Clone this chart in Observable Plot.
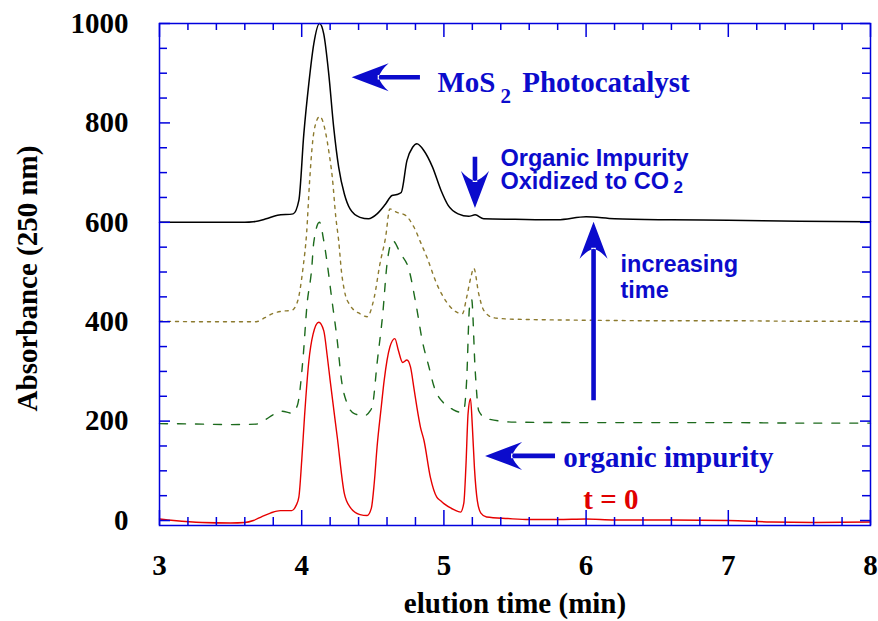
<!DOCTYPE html>
<html>
<head>
<meta charset="utf-8">
<script src="https://cdn.jsdelivr.net/npm/d3@7"></script>
<script src="https://cdn.jsdelivr.net/npm/@observablehq/plot@0.6"></script>
<style>
  html, body { margin: 0; padding: 0; background: #fff; }
</style>
</head>
<body>
<div id="chart"></div>
<script>
// Elution time (min) and absorbance at 250 nm for each chromatogram.
// t = 0 sample
const timeT0 = [3.0, 3.1, 3.3, 3.5, 3.6, 3.66, 3.72, 3.78, 3.85, 3.93, 3.96, 3.98, 4.0, 4.02, 4.05, 4.08, 4.12, 4.155, 4.18, 4.2, 4.25, 4.3, 4.34, 4.41, 4.46, 4.49, 4.51, 4.53, 4.56, 4.58, 4.62, 4.655, 4.68, 4.71, 4.74, 4.765, 4.79, 4.81, 4.835, 4.86, 4.905, 4.95, 4.976, 5.0, 5.07, 5.117, 5.14, 5.155, 5.17, 5.187, 5.2, 5.215, 5.235, 5.26, 5.3, 5.45, 5.6, 5.8, 6.0, 6.2, 6.6, 7.0, 7.3, 7.6, 8.0];
const absT0 = [3, 0, -4, -5, -4, 0, 8, 15, 20, 20, 30, 47, 120, 210, 320, 375, 399, 382, 330, 282, 168, 54, 27, 12, 10, 25, 75, 148, 230, 282, 349, 366, 342, 318, 323, 309, 265, 228, 188, 161, 87, 47, 40, 34, 22, 17, 35, 110, 215, 245, 190, 105, 40, 15, 7, 4, 2, 2, 3, 1, 1, 0, -3, -4, -3];

// intermediate sample (dashed)
const timeMid = [3.0, 3.3, 3.5, 3.68, 3.74, 3.8, 3.86, 3.93, 3.97, 4.01, 4.037, 4.07, 4.085, 4.125, 4.155, 4.18, 4.21, 4.25, 4.28, 4.32, 4.37, 4.44, 4.48, 4.5, 4.53, 4.57, 4.6, 4.64, 4.695, 4.753, 4.805, 4.85, 4.894, 4.93, 5.0, 5.06, 5.117, 5.14, 5.16, 5.18, 5.195, 5.22, 5.245, 5.3, 5.5, 6.0, 6.5, 7.0, 7.5, 8.0];
const absMid = [195, 194, 193, 194, 202, 213, 220, 216, 232, 329, 433, 506, 560, 600, 563, 516, 449, 362, 282, 235, 215, 211, 220, 235, 316, 416, 516, 563, 537, 506, 433, 359, 310, 270, 236, 224, 218, 222, 282, 429, 445, 302, 221, 205, 198, 197, 197, 197, 196, 196];

// later sample (dotted)
const timeLate = [3.0, 3.3, 3.5, 3.68, 3.74, 3.8, 3.86, 3.93, 3.97, 4.01, 4.035, 4.055, 4.078, 4.097, 4.127, 4.17, 4.19, 4.215, 4.24, 4.26, 4.28, 4.3, 4.34, 4.41, 4.46, 4.51, 4.55, 4.59, 4.62, 4.67, 4.73, 4.79, 4.84, 4.88, 4.95, 5.02, 5.07, 5.13, 5.16, 5.19, 5.21, 5.245, 5.28, 5.35, 5.5, 6.0, 6.5, 7.0, 7.5, 8.0];
const absLate = [401, 400, 400, 400, 408, 417, 421, 423, 440, 510, 580, 680, 765, 797, 813, 778, 744, 691, 610, 563, 500, 463, 433, 416, 410, 449, 516, 570, 627, 620, 614, 590, 557, 530, 476, 439, 423, 416, 449, 490, 508, 456, 423, 408, 405, 403, 402, 402, 401, 401];

// final sample (solid black)
const timeFinal = [3.0, 3.3, 3.6, 3.66, 3.75, 3.83, 3.94, 3.98, 4.015, 4.05, 4.085, 4.125, 4.155, 4.19, 4.225, 4.26, 4.3, 4.34, 4.41, 4.47, 4.53, 4.59, 4.635, 4.67, 4.7, 4.74, 4.78, 4.81, 4.86, 4.92, 4.98, 5.03, 5.1, 5.175, 5.22, 5.28, 5.5, 5.8, 6.0, 6.2, 6.6, 7.0, 7.5, 8.0];
const absFinal = [600, 600, 600, 601, 607, 614, 617, 644, 778, 879, 959, 1000, 979, 899, 791, 711, 657, 627, 610, 607, 617, 637, 654, 656, 660, 724, 751, 758, 744, 711, 664, 634, 617, 612, 615, 607, 606, 605, 611, 607, 605, 604, 602, 601];

// axis tick labels
const xTicks = [3, 4, 5, 6, 7, 8];
const yTicks = [0, 200, 400, 600, 800, 1000];

// annotation labels, anchored at (elution time, absorbance) baselines
const serifLabels = [
  {text: "MoS", t: 4.955, a: 862},
  {text: "Photocatalyst", t: 5.551, a: 862},
  {text: "organic impurity", t: 5.839, a: 107}
];
const serifSubscripts = [{text: "2", t: 5.398, a: 841}];
const sansLabels = [
  {text: "Organic Impurity", t: 5.398, a: 714},
  {text: "Oxidized to CO", t: 5.398, a: 667},
  {text: "increasing", t: 6.242, a: 500},
  {text: "time", t: 6.242, a: 447}
];
const sansSubscripts = [{text: "2", t: 6.615, a: 658}];
const startLabel = [{text: "t = 0", t: 5.98, a: 23}];

// arrows: tail (x1, y1) to tip (x2, y2)
const arrows = [
  {x1: 4.835, y1: 891, x2: 4.355, y2: 891},
  {x1: 5.222, y1: 731, x2: 5.222, y2: 628},
  {x1: 6.056, y1: 241, x2: 6.056, y2: 600},
  {x1: 5.785, y1: 129, x2: 5.293, y2: 129}
];

const rows = (ts, vs) => ts.map((t, i) => ({t, a: vs[i]}));

const W = 878, H = 621;
const M = {left: 159, right: 8, top: 23, bottom: 96};
const innerW = W - M.left - M.right;
const innerH = H - M.top - M.bottom;

const axisBlue = "#0000dd";
const noteBlue = "#0b0bcc";
const serif = "Liberation Serif, Times New Roman, serif";
const sans = "Liberation Sans, Arial, sans-serif";

const xMinor = d3.range(3, 8.0001, 0.2).filter(d => Math.abs(d - Math.round(d)) > 1e-6);
const yMinor = d3.range(0, 1000.1, 50).filter(d => d % 200 !== 0);

// inward frame ticks: each tickY/tickX is trimmed to a short stub by its insets
const tickStyle = {stroke: axisBlue, strokeWidth: 1.5};
const leftTicks = (vals, len) => Plot.tickY(vals, {y: d => d, insetRight: innerW - len, ...tickStyle});
const rightTicks = (vals, len) => Plot.tickY(vals, {y: d => d, insetLeft: innerW - len, ...tickStyle});
const bottomTicks = (vals, len) => Plot.tickX(vals, {x: d => d, insetTop: innerH - len, ...tickStyle});
const topTicks = (vals, len) => Plot.tickX(vals, {x: d => d, insetBottom: innerH - len, ...tickStyle});

// filled stealth-style arrows, positioned with the chart's scales
function arrowMark(list, color) {
  return (index, scales) => {
    const g = d3.create("svg:g").attr("fill", color);
    for (const a of list) {
      const px1 = scales.x(a.x1), py1 = scales.y(a.y1);
      const px2 = scales.x(a.x2), py2 = scales.y(a.y2);
      const len = Math.hypot(px2 - px1, py2 - py1);
      const deg = Math.atan2(py2 - py1, px2 - px1) * 180 / Math.PI;
      const L = 37, HW = 14, N = 27, S = 2.3;
      g.append("path")
        .attr("transform", `translate(${px2},${py2}) rotate(${deg})`)
        .attr("d",
          `M${-len},${-S}L${-N + 1},${-S}L${-N + 1},${S}L${-len},${S}Z` +
          `M0,0L${-L},${-HW}Q${-29},${-7} ${-N},0Q${-29},7 ${-L},${HW}Z`);
    }
    return g.node();
  };
}

const chart = Plot.plot({
  width: W,
  height: H,
  marginLeft: M.left,
  marginRight: M.right,
  marginTop: M.top,
  marginBottom: M.bottom,
  style: {fontFamily: serif, fontSize: "29px", fontWeight: "bold", color: "#000"},
  x: {domain: [3, 8], ticks: xTicks, tickSize: 0, tickPadding: 29, tickFormat: d => `${d}`, label: null},
  y: {domain: [-10, 1000], ticks: yTicks, tickSize: 0, tickPadding: 31, tickFormat: d => `${d}`, label: null},
  marks: [
    Plot.line(rows(timeT0, absT0), {x: "t", y: "a", stroke: "#e60000", strokeWidth: 1.4, curve: "monotone-x"}),
    Plot.line(rows(timeMid, absMid), {x: "t", y: "a", stroke: "#1c6a1c", strokeWidth: 1.4, strokeDasharray: "8,10", curve: "monotone-x"}),
    Plot.line(rows(timeLate, absLate), {x: "t", y: "a", stroke: "#8c7a2e", strokeWidth: 1.4, strokeDasharray: "3,5", curve: "monotone-x"}),
    Plot.line(rows(timeFinal, absFinal), {x: "t", y: "a", stroke: "#000", strokeWidth: 1.5, curve: "monotone-x"}),

    leftTicks(yTicks, 11), leftTicks(yMinor, 8),
    rightTicks(yTicks, 10), rightTicks(yMinor, 8),
    bottomTicks(xTicks, 15), bottomTicks(xMinor, 8),
    topTicks(xTicks, 14), topTicks(xMinor, 7),

    Plot.frame({stroke: axisBlue, strokeWidth: 1.5}),

    Plot.text(["elution time (min)"], {text: d => d, frameAnchor: "bottom", dy: 87, lineAnchor: "bottom",
      textAnchor: "middle", fontSize: 29, fontWeight: "bold", fontFamily: serif, fill: "#000"}),
    Plot.text(["Absorbance (250 nm)"], {text: d => d, frameAnchor: "left", rotate: -90, dx: -123, dy: 4,
      textAnchor: "middle", lineAnchor: "bottom", fontSize: 29, fontWeight: "bold", fontFamily: serif, fill: "#000"}),

    arrowMark(arrows, noteBlue),

    Plot.text(serifLabels, {x: "t", y: "a", text: "text", textAnchor: "start", lineAnchor: "bottom",
      fontSize: 29, fontWeight: "bold", fontFamily: serif, fill: noteBlue}),
    Plot.text(serifSubscripts, {x: "t", y: "a", text: "text", textAnchor: "start", lineAnchor: "bottom",
      fontSize: 21, fontWeight: "bold", fontFamily: serif, fill: noteBlue}),
    Plot.text(sansLabels, {x: "t", y: "a", text: "text", textAnchor: "start", lineAnchor: "bottom",
      fontSize: 23.5, fontWeight: "bold", fontFamily: sans, fill: noteBlue}),
    Plot.text(sansSubscripts, {x: "t", y: "a", text: "text", textAnchor: "start", lineAnchor: "bottom",
      fontSize: 17, fontWeight: "bold", fontFamily: sans, fill: noteBlue}),
    Plot.text(startLabel, {x: "t", y: "a", text: "text", textAnchor: "start", lineAnchor: "bottom",
      fontSize: 29, fontWeight: "bold", fontFamily: serif, fill: "#e00000"})
  ]
});

document.getElementById("chart").appendChild(chart);
</script>
</body>
</html>
